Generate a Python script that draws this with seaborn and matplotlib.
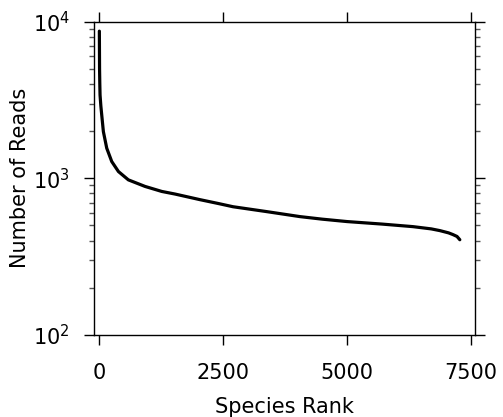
import matplotlib
matplotlib.use("Agg")
import matplotlib.pyplot as plt
import seaborn as sns
import pandas as pd
from matplotlib.ticker import LogLocator, NullFormatter

sns.set_style("ticks")
plt.rcParams['font.family'] = ['DejaVu Sans']
for k in ['text.color', 'axes.labelcolor', 'xtick.color', 'ytick.color', 'axes.edgecolor']:
    plt.rcParams[k] = 'black'

# Values (species rank vs number of reads)
species_rank = [0, 4, 9, 14, 30, 48, 81, 149, 250, 385, 585, 922, 1259, 1527,
                2032, 2400, 2698, 3384, 4050, 4500, 5000, 5700, 6331, 6700,
                6876, 7050, 7137, 7220, 7277]
num_reads = [8700, 5000, 4000, 3400, 2900, 2535, 1986, 1556, 1279, 1104, 977,
             887, 824, 793, 730, 690, 658, 612, 569, 548, 529, 510, 491, 475,
             463, 448, 437, 425, 405]

df = pd.DataFrame({"Species Rank": species_rank, "Number of Reads": num_reads})

fig = plt.figure(figsize=(5.03, 4.17), dpi=100)
ax = fig.add_axes([0.187, 0.197, 0.757, 0.751])

sns.lineplot(data=df, x="Species Rank", y="Number of Reads", ax=ax,
             color="black", linewidth=2.3)

ax.set_yscale("log")
ax.set_ylim(100, 10000)
ax.set_xlim(-107, 7580)
ax.set_xticks([0, 2500, 5000, 7500])
ax.yaxis.set_major_locator(LogLocator(base=10, numticks=5))
ax.yaxis.set_minor_locator(LogLocator(base=10, subs=range(2, 10), numticks=20))
ax.yaxis.set_minor_formatter(NullFormatter())

ax.set_xlabel("Species Rank", fontsize=15, labelpad=10)
ax.set_ylabel("Number of Reads", fontsize=15, labelpad=2)

ax.tick_params(which="major", direction="out", length=7, width=1.0,
               labelsize=15, top=True, right=True, color="black")
ax.tick_params(axis="x", which="major", pad=13)
ax.tick_params(axis="y", which="major", pad=10.5)
ax.tick_params(which="minor", direction="out", length=3.5, width=1.0,
               left=True, right=True, color="#555555")
ax.tick_params(axis="x", which="minor", bottom=False, top=False)
for s in ax.spines.values():
    s.set_linewidth(1.0)
    s.set_color("black")

fig.savefig("out.png", dpi=100)
